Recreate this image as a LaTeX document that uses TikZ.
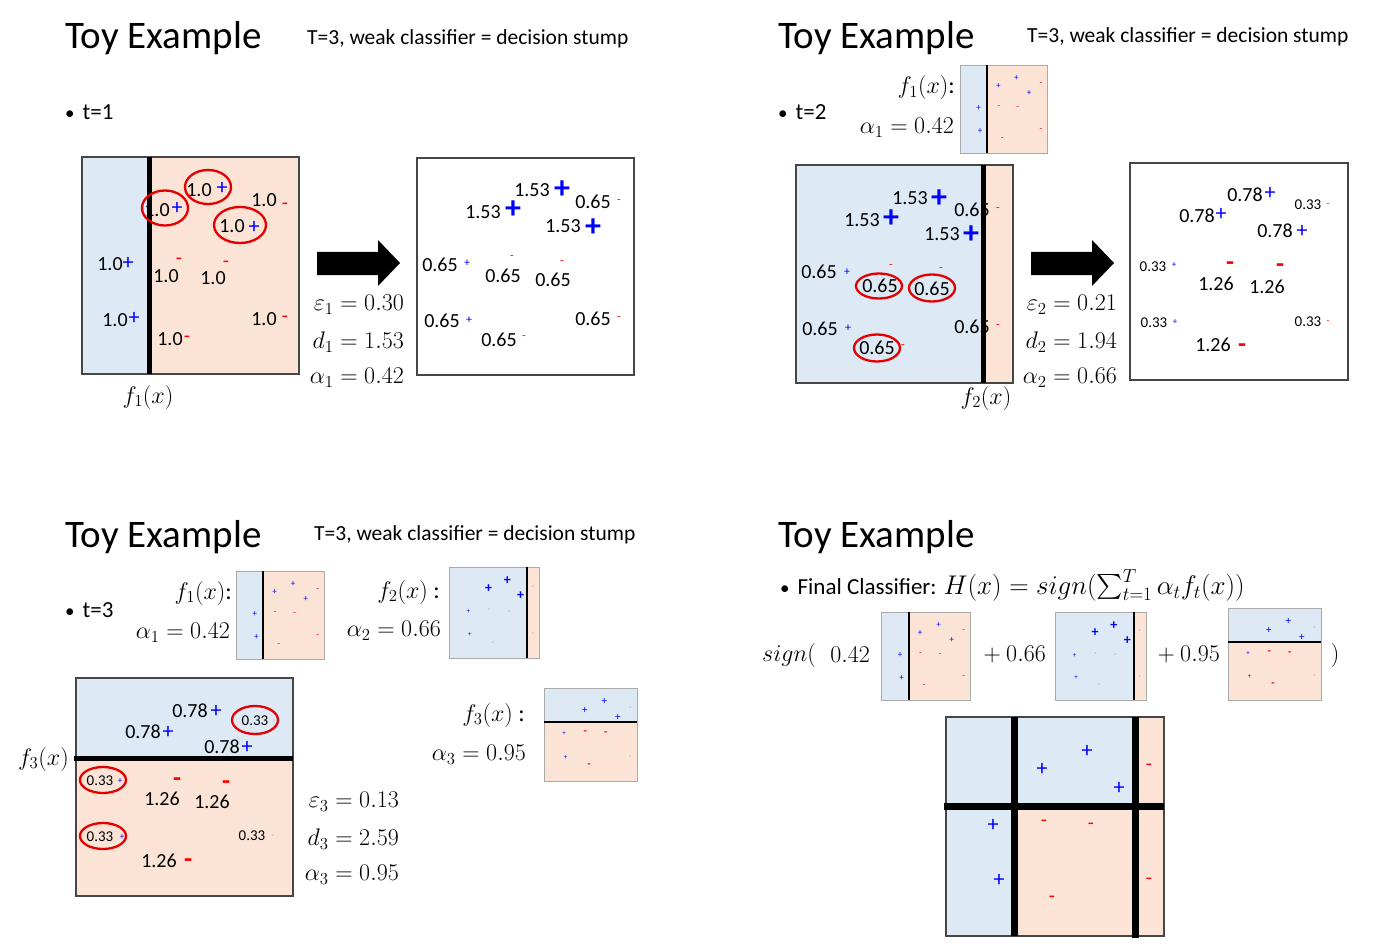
\documentclass[tikz,border=0pt]{standalone}
\usepackage{fix-cm}
\usepackage{amsmath}
\usepackage{fontspec}
\setmainfont{Carlito}

\definecolor{stumpblue}{RGB}{221,234,246}
\definecolor{stumppeach}{RGB}{251,228,214}
\definecolor{framegray}{RGB}{70,70,70}
\definecolor{thumbgray}{RGB}{170,170,170}
\definecolor{ringred}{RGB}{228,0,0}

\newcommand{\fsz}[1]{\fontsize{#1}{#1}\selectfont}
\newcommand{\dotmark}{{\fsz{19}\textbullet}\hspace{8pt}}

\begin{document}
\begin{tikzpicture}[x=1pt, y=-1pt,
    headline/.style={inner sep=0pt, font=\fsz{39}},
    subline/.style={inner sep=0pt, font=\fsz{21.5}},
    bulletline/.style={inner sep=0pt, font=\fsz{23}},
    mlbl/.style={inner sep=0pt, font=\fsz{24}},
    wt/.style={inner sep=0pt, font=\fsz{20}},
    wts/.style={inner sep=0pt, font=\fsz{15}},
    plusL/.style={inner sep=0pt, text=blue, font=\fsz{32}\bfseries},
    plusM/.style={inner sep=0pt, text=blue, font=\fsz{22}},
    plusS/.style={inner sep=0pt, text=blue, font=\fsz{12}},
    minusL/.style={inner sep=0pt, text=red, font=\fsz{26}\bfseries},
    minusM/.style={inner sep=0pt, text=red, font=\fsz{20}},
    minusS/.style={inner sep=0pt, text=red, font=\fsz{12}},
    tplus/.style={inner sep=0pt, text=blue, font=\fsz{9}},
    tminus/.style={inner sep=0pt, text=red, font=\fsz{9}},
    tplusB/.style={inner sep=0pt, text=blue, font=\fsz{14}\bfseries},
    tplusM/.style={inner sep=0pt, text=blue, font=\fsz{11}},
    tminusB/.style={inner sep=0pt, text=red, font=\fsz{11}\bfseries},
    tplusS/.style={inner sep=0pt, text=blue, font=\fsz{7}},
    tminusS/.style={inner sep=0pt, text=red!70, font=\fsz{7}},
    frame/.style={draw=framegray, line width=1.2pt},
    thumbframe/.style={draw=thumbgray, line width=0.9pt},
    stump/.style={line width=5pt},
    stumpT/.style={line width=2pt},
    stumpF/.style={line width=7pt},
    redring/.style={draw=ringred, line width=2.3pt}]

\useasboundingbox[fill=white] (0,0) rectangle (1379,952);

% ---------- t=1 ----------
\node[headline, anchor=west] (toy1) at (65,38) {Toy Example};
\node[subline, anchor=west] (spec1) at (307,39) {T=3, weak classifier = decision stump};
\node[bulletline, anchor=west] (step1) at (65,112) {\dotmark t=1};

\fill[stumpblue] (82,157) rectangle (149,374);
\fill[stumppeach] (149,157) rectangle (299,374);
\draw[frame] (82,157) rectangle (299,374);
\node[wt] (a1) at (199,190) {1.0};  \node[plusM] (am1) at (222,188) {+};
\node[wt] (a2) at (157,210) {1.0};  \node[plusM] (am2) at (177,208) {+};
\node[wt] (a3) at (232,226) {1.0};  \node[plusM] (am3) at (254,227) {+};
\node[wt] (a4) at (264,200) {1.0};  \node[minusM] (am4) at (285,206) {-};
\node[wt] (a5) at (110,264) {1.0};  \node[plusM] (am5) at (128,263) {+};
\node[wt] (a6) at (166,276) {1.0};  \node[minusM] (am6) at (179,261) {-};
\node[wt] (a7) at (213,278) {1.0};  \node[minusM] (am7) at (226,264) {-};
\node[wt] (a8) at (115,320) {1.0};  \node[plusM] (am8) at (134,318) {+};
\node[wt] (a9) at (170,339) {1.0};  \node[minusM] (am9) at (187,339) {-};
\node[wt] (a10) at (264,319) {1.0}; \node[minusM] (am10) at (285,319) {-};
\draw[stump] (149,157) -- (149,374);
\draw[redring] (208,187) ellipse (23 and 17);
\draw[redring] (165,208) ellipse (23 and 17.5);
\draw[redring] (240,225) ellipse (26 and 18);
\node[mlbl] (f1name) at (148,397) {$f_1(x)$};

\fill (317,252) -- (378,252) -- (378,240) -- (400,263) -- (378,286) -- (378,275) -- (317,275) -- cycle;
\node[mlbl, anchor=east] (eps1) at (404,305) {$\varepsilon_1 = 0.30$};
\node[mlbl, anchor=east] (d1) at (404,342) {$d_1 = 1.53$};
\node[mlbl, anchor=east] (al1) at (404,378) {$\alpha_1 = 0.42$};

\draw[frame, fill=white] (417,158) rectangle (634,375);
\node[wt] (b1) at (483,212) {1.53}; \node[plusL] (bm1) at (513,210) {+};
\node[wt] (b2) at (532,190) {1.53}; \node[plusL] (bm2) at (562,190) {+};
\node[wt] (b3) at (563,226) {1.53}; \node[plusL] (bm3) at (593,228) {+};
\node[wt] (b4) at (593,202) {0.65}; \node[minusS] (bm4) at (619,202) {-};
\node[wt] (b5) at (440,265) {0.65}; \node[plusS] (bm5) at (467,263) {+};
\node[wt] (b6) at (503,276) {0.65}; \node[minusS] (bm6) at (512,258) {-};
\node[wt] (b7) at (553,280) {0.65}; \node[minusS] (bm7) at (562,263) {-};
\node[wt] (b8) at (442,321) {0.65}; \node[plusS] (bm8) at (469,320) {+};
\node[wt] (b9) at (499,340) {0.65}; \node[minusS] (bm9) at (524,338) {-};
\node[wt] (b10) at (593,319) {0.65}; \node[minusS] (bm10) at (619,319) {-};

% ---------- t=2 ----------
\node[headline, anchor=west] (toy2) at (778,38) {Toy Example};
\node[subline, anchor=west] (spec2) at (1027,37) {T=3, weak classifier = decision stump};
\node[bulletline, anchor=west] (step2) at (778,112) {\dotmark t=2};

\node[mlbl, anchor=east] (f1q) at (955,88) {$f_1(x)$:};
\node[mlbl, anchor=east] (al1q) at (954,128) {$\alpha_1 = 0.42$};
\begin{scope}[shift={(960,65)}, x=0.87pt, y=-0.88pt]
  \fill[stumpblue] (0,0) rectangle (31,100);
  \fill[stumppeach] (31,0) rectangle (100,100);
  \draw[thumbframe] (0,0) rectangle (100,100);
  \draw[stumpT] (31,0) -- (31,100);
  \node[tplus] (qa1) at (44,24) {+};
  \node[tplus] (qa2) at (64.8,15) {+};
  \node[tplus] (qa3) at (79.5,32) {+};
  \node[tminus] (qa4) at (93,22) {-};
  \node[tplus] (qa5) at (21.5,49) {+};
  \node[tminus] (qa6) at (44.5,48) {-};
  \node[tminus] (qa7) at (66.5,49.5) {-};
  \node[tplus] (qa8) at (23.2,74.5) {+};
  \node[tminus] (qa9) at (48.5,83.8) {-};
  \node[tminus] (qa10) at (93,74.5) {-};
\end{scope}

\fill[stumpblue] (796,165) rectangle (983,383);
\fill[stumppeach] (983,165) rectangle (1013,383);
\draw[frame] (796,165) rectangle (1013,383);
\node[wt] (c1) at (862,220) {1.53}; \node[plusL] (cm1) at (891,219) {+};
\node[wt] (c2) at (910,198) {1.53}; \node[plusL] (cm2) at (939,199) {+};
\node[wt] (c3) at (942,234) {1.53}; \node[plusL] (cm3) at (971,235) {+};
\node[wt] (c4) at (972,210) {0.65}; \node[minusS] (cm4) at (998,210) {-};
\node[wt] (c5) at (819,272) {0.65}; \node[plusS] (cm5) at (847,272) {+};
\node[wt] (c6) at (880,286) {0.65}; \node[minusS] (cm6) at (891,267) {-};
\node[wt] (c7) at (932,289) {0.65}; \node[minusS] (cm7) at (941,270) {-};
\node[wt] (c8) at (820,329) {0.65}; \node[plusS] (cm8) at (848,328) {+};
\node[wt] (c9) at (877,348) {0.65}; \node[minusS] (cm9) at (903,347) {-};
\node[wt] (c10) at (972,327) {0.65}; \node[minusS] (cm10) at (998,327) {-};
\draw[stump] (983,165) -- (983,383);
\draw[redring] (879,286) ellipse (23 and 12.5);
\draw[redring] (932,288) ellipse (23 and 13.5);
\draw[redring] (877,348) ellipse (23 and 13.5);
\node[mlbl] (f2name) at (986,398) {$f_2(x)$};

\fill (1031,252) -- (1092,252) -- (1092,240) -- (1114,263) -- (1092,286) -- (1092,275) -- (1031,275) -- cycle;
\node[mlbl, anchor=east] (eps2) at (1117,305) {$\varepsilon_2 = 0.21$};
\node[mlbl, anchor=east] (d2) at (1117,342) {$d_2 = 1.94$};
\node[mlbl, anchor=east] (al2) at (1117,378) {$\alpha_2 = 0.66$};

\draw[frame, fill=white] (1130,163) rectangle (1348,380);
\node[wt] (e1) at (1197,216) {0.78}; \node[plusM] (em1) at (1221,214) {+};
\node[wt] (e2) at (1245,195) {0.78}; \node[plusM] (em2) at (1270,193) {+};
\node[wt] (e3) at (1275,231) {0.78}; \node[plusM] (em3) at (1302,231) {+};
\node[wts] (e4) at (1308,205) {0.33}; \node[tminus] (em4) at (1328,205) {-};
\node[wts] (e5) at (1153,267) {0.33}; \node[tplus] (em5) at (1174,265) {+};
\node[wt] (e6) at (1216,284) {1.26}; \node[minusL] (em6) at (1230,266) {-};
\node[wt] (e7) at (1267,287) {1.26}; \node[minusL] (em7) at (1280,268) {-};
\node[wts] (e8) at (1154,323) {0.33}; \node[tplus] (em8) at (1175,322) {+};
\node[wt] (e9) at (1213,345) {1.26}; \node[minusL] (em9) at (1242,348) {-};
\node[wts] (e10) at (1308,322) {0.33}; \node[tminus] (em10) at (1328,322) {-};

% ---------- t=3 ----------
\node[headline, anchor=west] (toy3) at (65,537) {Toy Example};
\node[subline, anchor=west] (spec3) at (314,535) {T=3, weak classifier = decision stump};
\node[bulletline, anchor=west] (step3) at (65,610) {\dotmark t=3};

\node[mlbl, anchor=east] (f1r) at (232,593) {$f_1(x)$:};
\node[mlbl, anchor=east] (al1r) at (230,633) {$\alpha_1 = 0.42$};
\begin{scope}[shift={(236,571)}, x=0.88pt, y=-0.88pt]
  \fill[stumpblue] (0,0) rectangle (31,100);
  \fill[stumppeach] (31,0) rectangle (100,100);
  \draw[thumbframe] (0,0) rectangle (100,100);
  \draw[stumpT] (31,0) -- (31,100);
  \node[tplus] (ra1) at (44,24) {+};
  \node[tplus] (ra2) at (64.8,15) {+};
  \node[tplus] (ra3) at (79.5,32) {+};
  \node[tminus] (ra4) at (93,22) {-};
  \node[tplus] (ra5) at (21.5,49) {+};
  \node[tminus] (ra6) at (44.5,48) {-};
  \node[tminus] (ra7) at (66.5,49.5) {-};
  \node[tplus] (ra8) at (23.2,74.5) {+};
  \node[tminus] (ra9) at (48.5,83.8) {-};
  \node[tminus] (ra10) at (93,74.5) {-};
\end{scope}

\node[mlbl, anchor=east] (f2r) at (440,592) {$f_2(x)$ :};
\node[mlbl, anchor=east] (al2r) at (441,631) {$\alpha_2 = 0.66$};
\begin{scope}[shift={(449,567)}, x=0.9pt, y=-0.91pt]
  \fill[stumpblue] (0,0) rectangle (86.5,100);
  \fill[stumppeach] (86.5,0) rectangle (100,100);
  \draw[thumbframe] (0,0) rectangle (100,100);
  \draw[stumpT] (86.5,0) -- (86.5,100);
  \node[tplusB] (rb1) at (44,24) {+};
  \node[tplusB] (rb2) at (64.8,15) {+};
  \node[tplusB] (rb3) at (79.5,32) {+};
  \node[tminusS] (rb4) at (93,22) {-};
  \node[tplusS] (rb5) at (21.5,49) {+};
  \node[tminusS] (rb6) at (44.5,48) {-};
  \node[tminusS] (rb7) at (66.5,49.5) {-};
  \node[tplusS] (rb8) at (23.2,74.5) {+};
  \node[tminusS] (rb9) at (48.5,83.8) {-};
  \node[tminusS] (rb10) at (93,74.5) {-};
\end{scope}

\node[mlbl, anchor=east] (f3r) at (525,715) {$f_3(x)$ :};
\node[mlbl, anchor=east] (al3r) at (526,755) {$\alpha_3 = 0.95$};
\begin{scope}[shift={(544,688)}, x=0.93pt, y=-0.93pt]
  \fill[stumpblue] (0,0) rectangle (100,36.6);
  \fill[stumppeach] (0,36.6) rectangle (100,100);
  \draw[thumbframe] (0,0) rectangle (100,100);
  \draw[stumpT] (0,36.6) -- (100,36.6);
  \node[tplusM] (rc1) at (44,24) {+};
  \node[tplusM] (rc2) at (64.8,15) {+};
  \node[tplusM] (rc3) at (79.5,32) {+};
  \node[tminusS] (rc4) at (93,22) {-};
  \node[tplusS] (rc5) at (21.5,49) {+};
  \node[tminusB] (rc6) at (44.5,48) {-};
  \node[tminusB] (rc7) at (66.5,49.5) {-};
  \node[tplusS] (rc8) at (23.2,74.5) {+};
  \node[tminusB] (rc9) at (48.5,83.8) {-};
  \node[tminusS] (rc10) at (93,74.5) {-};
\end{scope}

\fill[stumpblue] (76,678) rectangle (293,758);
\fill[stumppeach] (76,758) rectangle (293,896);
\draw[frame] (76,678) rectangle (293,896);
\node[wt] (g1) at (143,732) {0.78}; \node[plusM] (gm1) at (168,732) {+};
\node[wt] (g2) at (190,711) {0.78}; \node[plusM] (gm2) at (216,711) {+};
\node[wt] (g3) at (222,747) {0.78}; \node[plusM] (gm3) at (247,747) {+};
\node[wts] (g4) at (255,721) {0.33}; \node[tminusS] (gm4) at (274,721) {-};
\node[wts] (g5) at (100,781) {0.33}; \node[tplus] (gm5) at (120,781) {+};
\node[wt] (g6) at (162,799) {1.26}; \node[minusL] (gm6) at (177,782) {-};
\node[wt] (g7) at (212,802) {1.26}; \node[minusL] (gm7) at (226,785) {-};
\node[wts] (g8) at (100,837) {0.33}; \node[tplus] (gm8) at (122,837) {+};
\node[wt] (g9) at (159,861) {1.26}; \node[minusL] (gm9) at (188,863) {-};
\node[wts] (g10) at (252,836) {0.33}; \node[tminusS] (gm10) at (273,836) {-};
\draw[stump] (74,758) -- (293,758);
\draw[redring] (255,720) ellipse (23 and 14);
\draw[redring] (103,780) ellipse (23 and 13);
\draw[redring] (103,836) ellipse (23 and 13);
\node[mlbl, anchor=east] (f3name) at (69,759) {$f_3(x)$};

\node[mlbl, anchor=east] (eps3) at (399,802) {$\varepsilon_3 = 0.13$};
\node[mlbl, anchor=east] (d3) at (399,839) {$d_3 = 2.59$};
\node[mlbl, anchor=east] (al3) at (399,875) {$\alpha_3 = 0.95$};

% ---------- final ----------
\node[headline, anchor=west] (toy4) at (778,537) {Toy Example};
\node[bulletline, anchor=west] (final) at (780,585) {\dotmark Final Classifier: {\fsz{27}$H(x) = sign(\sum_{t=1}^{T}\alpha_t f_t(x))$}};

\node[mlbl, anchor=west] (sgn) at (762,655) {$sign($};
\node[mlbl, anchor=east] (w1) at (870,655) {$0.42$};
\begin{scope}[shift={(881,612)}, x=0.89pt, y=-0.88pt]
  \fill[stumpblue] (0,0) rectangle (31,100);
  \fill[stumppeach] (31,0) rectangle (100,100);
  \draw[thumbframe] (0,0) rectangle (100,100);
  \draw[stumpT] (31,0) -- (31,100);
  \node[tplus] (sa1) at (44,24) {+};
  \node[tplus] (sa2) at (64.8,15) {+};
  \node[tplus] (sa3) at (79.5,32) {+};
  \node[tminus] (sa4) at (93,22) {-};
  \node[tplus] (sa5) at (21.5,49) {+};
  \node[tminus] (sa6) at (44.5,48) {-};
  \node[tminus] (sa7) at (66.5,49.5) {-};
  \node[tplus] (sa8) at (23.2,74.5) {+};
  \node[tminus] (sa9) at (48.5,83.8) {-};
  \node[tminus] (sa10) at (93,74.5) {-};
\end{scope}
\node[mlbl, anchor=east] (w2) at (1046,655) {$+\ 0.66$};
\begin{scope}[shift={(1055,612)}, x=0.91pt, y=-0.88pt]
  \fill[stumpblue] (0,0) rectangle (86.5,100);
  \fill[stumppeach] (86.5,0) rectangle (100,100);
  \draw[thumbframe] (0,0) rectangle (100,100);
  \draw[stumpT] (86.5,0) -- (86.5,100);
  \node[tplusB] (sb1) at (44,24) {+};
  \node[tplusB] (sb2) at (64.8,15) {+};
  \node[tplusB] (sb3) at (79.5,32) {+};
  \node[tminusS] (sb4) at (93,22) {-};
  \node[tplusS] (sb5) at (21.5,49) {+};
  \node[tminusS] (sb6) at (44.5,48) {-};
  \node[tminusS] (sb7) at (66.5,49.5) {-};
  \node[tplusS] (sb8) at (23.2,74.5) {+};
  \node[tminusS] (sb9) at (48.5,83.8) {-};
  \node[tminusS] (sb10) at (93,74.5) {-};
\end{scope}
\node[mlbl, anchor=east] (w3) at (1220,655) {$+\ 0.95$};
\begin{scope}[shift={(1228,608)}, x=0.93pt, y=-0.92pt]
  \fill[stumpblue] (0,0) rectangle (100,36.6);
  \fill[stumppeach] (0,36.6) rectangle (100,100);
  \draw[thumbframe] (0,0) rectangle (100,100);
  \draw[stumpT] (0,36.6) -- (100,36.6);
  \node[tplusM] (sc1) at (44,24) {+};
  \node[tplusM] (sc2) at (64.8,15) {+};
  \node[tplusM] (sc3) at (79.5,32) {+};
  \node[tminusS] (sc4) at (93,22) {-};
  \node[tplusS] (sc5) at (21.5,49) {+};
  \node[tminusB] (sc6) at (44.5,48) {-};
  \node[tminusB] (sc7) at (66.5,49.5) {-};
  \node[tplusS] (sc8) at (23.2,74.5) {+};
  \node[tminusB] (sc9) at (48.5,83.8) {-};
  \node[tminusS] (sc10) at (93,74.5) {-};
\end{scope}
\node[mlbl] (rpar) at (1335,655) {$)$};

\fill[stumpblue] (946,717) rectangle (1014,936);
\fill[stumpblue] (1014,717) rectangle (1135,806);
\fill[stumppeach] (1014,806) rectangle (1135,936);
\fill[stumppeach] (1135,717) rectangle (1164,936);
\draw[frame] (946,717) rectangle (1164,936);
\node[plusM] (h1) at (1042,769) {+};
\node[plusM] (h2) at (1087,751) {+};
\node[plusM] (h3) at (1119,788) {+};
\node[minusM] (h4) at (1149,767) {-};
\node[plusM] (h5) at (993,825) {+};
\node[minusM] (h6) at (1044,823) {-};
\node[minusM] (h7) at (1091,826) {-};
\node[plusM] (h8) at (999,880) {+};
\node[minusM] (h9) at (1052,899) {-};
\node[minusM] (h10) at (1149,881) {-};
\draw[stumpF] (1014,717) -- (1014,936);
\draw[stumpF] (1135,717) -- (1135,938);
\draw[stumpF] (944,806) -- (1164,806);
\end{tikzpicture}
\end{document}
